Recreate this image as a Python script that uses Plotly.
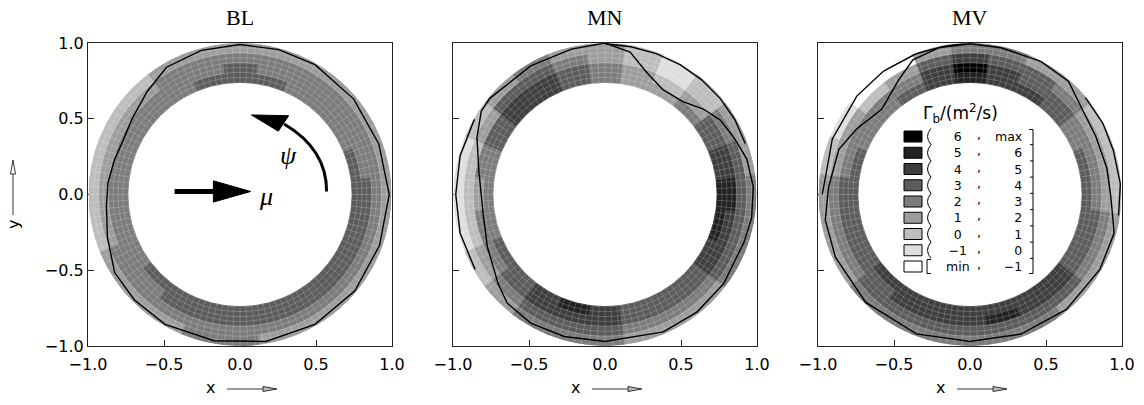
import numpy as np
import plotly.graph_objects as go

W, H = 1144, 405

# ---------------- data ----------------
PANEL_TITLES = ["BL", "MN", "MV"]
THETA = list(range(0, 360, 15))            # azimuth bin centres (deg), 0 = +x, counter-clockwise
THETA_WIDTH = 15
R_EDGES = [0.74, 0.805, 0.87, 0.935, 1.0]  # radial bin edges (inner -> outer)

# Gamma_b values (m^2/s) per radial ring (inner -> outer), 24 azimuth bins each
BL_R1 = [3.5, 3.0, 2.5, 2.5, 2.5, 3.0, 3.0, 3.0, 2.5, 2.5, 2.5, 2.5, 2.5, 2.5, 2.5, 3.0, 3.0, 3.5, 3.5, 3.5, 3.0, 3.0, 3.5, 3.5]
BL_R2 = [3.0, 2.5, 2.5, 2.5, 2.5, 2.5, 3.0, 2.5, 2.5, 2.0, 2.0, 2.0, 2.0, 2.0, 2.5, 2.5, 3.0, 3.5, 3.0, 3.0, 3.0, 3.0, 3.0, 3.0]
BL_R3 = [2.5, 2.5, 2.5, 2.0, 2.5, 2.5, 2.5, 2.5, 2.0, 1.5, 1.5, 1.5, 1.5, 1.5, 2.0, 2.5, 2.5, 2.5, 2.5, 2.5, 2.5, 2.5, 2.5, 2.5]
BL_R4 = [1.5, 1.5, 1.5, 1.5, 1.5, 1.5, 1.5, 1.5, 1.0, 0.5, 0.5, 0.5, 0.5, 0.5, 1.0, 1.5, 1.5, 2.0, 2.0, 1.5, 1.5, 1.5, 1.5, 1.5]

MN_R1 = [5.5, 4.5, 3.5, 2.5, 1.5, 1.5, 2.5, 3.5, 4.5, 4.5, 3.5, 2.5, 2.5, 2.5, 3.0, 3.5, 4.5, 5.0, 4.0, 3.5, 3.0, 3.5, 4.5, 5.5]
MN_R2 = [5.0, 4.0, 3.0, 1.5, 0.5, 1.0, 2.5, 3.5, 4.5, 4.0, 3.0, 2.0, 1.5, 2.0, 2.5, 3.0, 4.0, 4.5, 4.0, 3.0, 3.0, 3.0, 4.0, 4.5]
MN_R3 = [3.5, 3.0, 2.0, 0.5, -0.5, 0.5, 1.5, 2.5, 3.5, 3.0, 1.5, 0.5, 0.5, 0.5, 1.5, 2.5, 3.0, 3.5, 3.0, 2.5, 2.5, 2.5, 3.0, 3.5]
MN_R4 = [2.0, 1.5, 1.0, 0.5, -0.5, 0.5, 1.0, 1.5, 2.0, 1.5, 0.5, -0.5, -0.5, -0.5, 0.5, 1.5, 2.0, 2.0, 2.0, 1.5, 1.5, 1.5, 2.0, 2.0]

MV_R1 = [3.0, 3.0, 2.5, 3.0, 4.0, 4.5, 5.5, 4.0, 3.0, 2.5, 2.5, 3.0, 3.0, 3.5, 3.5, 4.0, 4.0, 4.0, 4.0, 4.5, 4.5, 4.0, 3.5, 3.5]
MV_R2 = [2.5, 2.5, 2.5, 3.0, 3.5, 4.5, 6.0, 4.0, 2.5, 2.0, 2.0, 2.5, 3.0, 3.0, 3.5, 3.5, 4.0, 4.0, 4.0, 5.0, 4.5, 4.0, 3.5, 3.0]
MV_R3 = [1.5, 1.5, 1.5, 2.5, 3.0, 3.5, 4.5, 3.0, 1.0, 0.5, 1.0, 1.5, 2.0, 2.5, 2.5, 3.0, 3.0, 3.0, 3.0, 3.5, 3.5, 3.0, 2.5, 2.0]
MV_R4 = [0.5, 0.5, 0.5, 1.0, 1.5, 2.0, 2.5, 1.5, -1.5, -1.5, -0.5, 0.5, 1.0, 1.5, 1.5, 2.0, 2.0, 2.0, 2.0, 2.0, 2.0, 1.5, 1.5, 1.0]

# contour lines (theta in deg, r)
BL_LINE_T = [90, 105, 120, 132, 145, 155, 165, 175, 185, 198, 212, 225, 240, 260, 280, 300, 320, 340, 0, 20, 40, 60, 75, 90]
BL_LINE_R = [0.99, 0.985, 0.97, 0.915, 0.87, 0.85, 0.86, 0.875, 0.885, 0.92, 0.975, 0.985, 0.99, 0.98, 0.985, 0.99, 0.99, 0.98, 0.985, 0.975, 0.98, 0.99, 0.99, 0.99]

MN_LINE1_T = [90, 80, 70, 60, 50, 40, 30, 20]
MN_LINE1_R = [0.995, 0.99, 0.99, 0.99, 0.99, 0.99, 0.99, 0.985]
MN_LINE2_T = [90, 80, 71, 61, 50, 41, 33, 24, 14, 3, -9, -19, -37, -52, -67, -90, -106, -120, -132, -140, -156, -170, 170, 156, 146, 140, 120, 103, 90]
MN_LINE2_R = [1.0, 0.955, 0.85, 0.79, 0.80, 0.86, 0.905, 0.93, 0.965, 0.98, 0.98, 0.97, 0.98, 0.985, 0.985, 0.97, 0.975, 0.98, 0.965, 0.92, 0.85, 0.815, 0.845, 0.925, 0.985, 0.99, 0.98, 0.985, 1.0]
MN_LINE3_T = [150, 165, 180, 195, 210]
MN_LINE3_R = [0.995, 0.99, 0.985, 0.99, 0.99]

MV_LINE1_T = [102, 113, 122, 136, 150, 161, 177, 190, 205, 226, 249, 270, 290, 310, 330, 345, 359, 11, 25, 37, 49, 62, 78, 90, 102]
MV_LINE1_R = [0.99, 0.965, 0.89, 0.81, 0.865, 0.915, 0.935, 0.97, 0.98, 0.99, 0.985, 0.97, 0.98, 0.99, 0.99, 0.985, 0.93, 0.92, 0.915, 0.93, 0.99, 0.995, 0.99, 0.995, 0.99]
MV_LINE2_T = [180, 158, 139, 125, 111, 99, 92]
MV_LINE2_R = [0.975, 0.98, 0.99, 0.995, 0.995, 0.995, 0.995]
MV_LINE3_T = [40, 28, 17, 4, -8]
MV_LINE3_R = [0.995, 0.995, 0.99, 0.995, 0.99]

TICK_VALS = [-1.0, -0.5, 0.0, 0.5, 1.0]
TICK_TEXT = ["\u22121.0", "\u22120.5", "0.0", "0.5", "1.0"]

LEGEND_TITLE = "\u0393<sub>b</sub>/(m<sup>2</sup>/s)"
LEGEND_LOW = ["6", "5", "4", "3", "2", "1", "0", "\u22121", "min"]
LEGEND_HIGH = ["max", "6", "5", "4", "3", "2", "1", "0", "\u22121"]
LEGEND_COLORS = ["#000000", "#222222", "#3e3e3e", "#5c5c5c", "#7c7c7c", "#9d9d9d", "#bdbdbd", "#dedede", "#ffffff"]

# ---------------- helpers ----------------
COLORS_ASC = LEGEND_COLORS[::-1]


def level_color(v):
    idx = int(np.floor(v)) + 2
    return COLORS_ASC[min(max(idx, 0), 8)]


X_PX = [(88, 392), (453, 757), (818, 1122)]
Y_PX = (43, 346)
YDOM = [1 - Y_PX[1] / H, 1 - Y_PX[0] / H]

panels = [
    ([BL_R1, BL_R2, BL_R3, BL_R4], [(BL_LINE_T, BL_LINE_R)]),
    ([MN_R1, MN_R2, MN_R3, MN_R4], [(MN_LINE1_T, MN_LINE1_R), (MN_LINE2_T, MN_LINE2_R), (MN_LINE3_T, MN_LINE3_R)]),
    ([MV_R1, MV_R2, MV_R3, MV_R4], [(MV_LINE1_T, MV_LINE1_R), (MV_LINE2_T, MV_LINE2_R), (MV_LINE3_T, MV_LINE3_R)]),
]

fig = go.Figure()
layout = {}

# mesh texture (white grid of the computational mesh)
mesh_t, mesh_r = [], []
for a in np.arange(0, 360, 3):
    mesh_t += [a, a, None]
    mesh_r += [R_EDGES[0], R_EDGES[-1], None]
circ = np.arange(0, 362, 2)
for rr in np.linspace(R_EDGES[0], R_EDGES[-1], 9)[1:-1]:
    mesh_t += list(circ) + [None]
    mesh_r += [rr] * len(circ) + [None]

for i, (rings, lines) in enumerate(panels):
    sfx = "" if i == 0 else str(i + 1)
    sub = "polar" + sfx
    xdom = [X_PX[i][0] / W, X_PX[i][1] / W]
    for k, vals in enumerate(rings):
        cols = [level_color(v) for v in vals]
        fig.add_trace(go.Barpolar(
            r=[R_EDGES[k + 1] - R_EDGES[k]] * len(THETA),
            base=[R_EDGES[k]] * len(THETA),
            theta=THETA, width=[THETA_WIDTH] * len(THETA),
            marker=dict(color=cols, line=dict(color=cols, width=0.8)),
            subplot=sub, showlegend=False, hoverinfo="skip"))
    fig.add_trace(go.Scatterpolar(
        r=mesh_r, theta=mesh_t, mode="lines",
        line=dict(color="rgba(255,255,255,0.28)", width=0.7),
        subplot=sub, showlegend=False, hoverinfo="skip"))
    for (lt, lr) in lines:
        fig.add_trace(go.Scatterpolar(
            r=lr, theta=lt, mode="lines",
            line=dict(color="black", width=1.4),
            subplot=sub, showlegend=False, hoverinfo="skip"))
    layout[sub] = dict(
        domain=dict(x=xdom, y=YDOM),
        bgcolor="rgba(0,0,0,0)",
        bargap=0, barmode="overlay", hole=0,
        radialaxis=dict(range=[0, 1], visible=False, showgrid=False),
        angularaxis=dict(visible=False, rotation=0, direction="counterclockwise", showgrid=False),
    )
    # cartesian frame
    fig.add_trace(go.Scatter(x=[None], y=[None], xaxis="x" + sfx, yaxis="y" + sfx,
                             showlegend=False, hoverinfo="skip"))
    common = dict(range=[-1, 1], showline=True, linecolor="#222", linewidth=1.2, mirror=True,
                  ticks="inside", ticklen=6, tickwidth=1.2, tickcolor="#222",
                  tickvals=TICK_VALS, ticktext=TICK_TEXT, showgrid=False, zeroline=False,
                  tickfont=dict(family="DejaVu Sans", size=16, color="black"), fixedrange=True,
                  automargin=False)
    layout["xaxis" + sfx] = dict(common, domain=xdom, anchor="y" + sfx, ticklabelstandoff=4)
    layout["yaxis" + sfx] = dict(common, domain=YDOM, anchor="x" + sfx, showticklabels=(i == 0))

annotations = []
shapes = []


def px(x):
    return x / W


def py(y):
    return 1 - y / H


# titles and axis titles
for i, t in enumerate(PANEL_TITLES):
    cx = (X_PX[i][0] + X_PX[i][1]) / 2
    annotations.append(dict(text=t, x=px(cx), y=py(18), xref="paper", yref="paper", showarrow=False,
                            xanchor="center", yanchor="middle",
                            font=dict(family="Liberation Serif", size=22, color="black")))
    annotations.append(dict(text="x", x=px(cx - 30), y=py(387), xref="paper", yref="paper", showarrow=False,
                            xanchor="center", yanchor="middle",
                            font=dict(family="DejaVu Sans", size=16, color="black")))
    shapes.append(dict(type="line", xref="paper", yref="paper", x0=px(cx - 13), x1=px(cx + 24),
                       y0=py(389), y1=py(389), line=dict(color="#333", width=1)))
    shapes.append(dict(type="path", xref="paper", yref="paper",
                       path=f"M {px(cx + 23)},{py(386.5)} L {px(cx + 37)},{py(389)} L {px(cx + 23)},{py(391.5)} Z",
                       fillcolor="#bbbbbb", line=dict(color="#333", width=1)))

annotations.append(dict(text="y", x=px(13), y=py(225), xref="paper", yref="paper", showarrow=False,
                        textangle=-90, xanchor="center", yanchor="middle",
                        font=dict(family="DejaVu Sans", size=16, color="black")))
shapes.append(dict(type="line", xref="paper", yref="paper", x0=px(13), x1=px(13), y0=py(215), y1=py(173),
                   line=dict(color="#333", width=1)))
shapes.append(dict(type="path", xref="paper", yref="paper",
                   path=f"M {px(10.5)},{py(174)} L {px(13)},{py(160)} L {px(15.5)},{py(174)} Z",
                   fillcolor="#ffffff", line=dict(color="#333", width=1)))

# mu and psi arrows in BL panel
shapes.append(dict(type="line", xref="x", yref="y", x0=-0.43, y0=0.02, x1=-0.16, y1=0.02,
                   line=dict(color="black", width=5), layer="above"))
shapes.append(dict(type="path", xref="x", yref="y", path="M 0.07,0.02 L -0.175,0.09 L -0.175,-0.05 Z",
                   fillcolor="black", line=dict(color="black", width=1), layer="above"))
annotations.append(dict(text="<i>\u03bc</i>", x=0.17, y=-0.01, xref="x", yref="y", showarrow=False,
                        xanchor="center", yanchor="middle",
                        font=dict(family="Liberation Serif", size=26, color="black")))
shapes.append(dict(type="path", xref="x", yref="y", path="M 0.57,0.02 Q 0.57,0.30 0.29,0.465",
                   line=dict(color="black", width=3), layer="above"))
shapes.append(dict(type="path", xref="x", yref="y", path="M 0.075,0.525 L 0.32,0.52 L 0.252,0.418 Z",
                   fillcolor="black", line=dict(color="black", width=1), layer="above"))
annotations.append(dict(text="<i>\u03c8</i>", x=0.32, y=0.26, xref="x", yref="y", showarrow=False,
                        xanchor="center", yanchor="middle",
                        font=dict(family="Liberation Serif", size=26, color="black")))


# legend inside MV panel (x3/y3 data coords converted from pixel layout)
def lx(p):
    return (p - 970) / 152


def ly(p):
    return (194.5 - p) / 151.5


LEG_FS = 12.5
dr = 1.3 * LEG_FS          # line spacing of multi-line annotations
row0 = 136.5
nrow = len(LEGEND_LOW)
ymid = row0 + (nrow - 1) * dr / 2

annotations.append(dict(text=LEGEND_TITLE, x=lx(960), y=ly(113), xref="x3", yref="y3", showarrow=False,
                        xanchor="center", yanchor="middle",
                        font=dict(family="DejaVu Sans", size=17, color="black")))
for k in range(nrow):
    yc = row0 + k * dr
    shapes.append(dict(type="rect", xref="x3", yref="y3", x0=lx(904), x1=lx(922), y0=ly(yc - 5.5), y1=ly(yc + 5.5),
                       fillcolor=LEGEND_COLORS[k], line=dict(color="black", width=1)))
common_leg = dict(xref="x3", yref="y3", showarrow=False, yanchor="middle", borderpad=0,
                  font=dict(family="DejaVu Sans", size=LEG_FS, color="black"))
annotations.append(dict(common_leg, text="<br>".join(LEGEND_LOW), x=lx(958), y=ly(ymid),
                        xanchor="center", align="center"))
annotations.append(dict(common_leg, text="<br>".join([","] * nrow), x=lx(979), y=ly(ymid - 2),
                        xanchor="center", align="center"))
annotations.append(dict(common_leg, text="<br>".join(LEGEND_HIGH), x=lx(1023), y=ly(ymid),
                        xanchor="right", align="right"))

# wavy left bracket for open intervals
x0 = 931
path = f"M {lx(x0)},{ly(row0 - dr / 2)}"
for k in range(nrow - 1):
    ya, yb = row0 - dr / 2 + k * dr, row0 + dr / 2 + k * dr
    path += f" Q {lx(x0 - 7)},{ly((ya + yb) / 2)} {lx(x0)},{ly(yb)}"
shapes.append(dict(type="path", xref="x3", yref="y3", path=path, line=dict(color="black", width=1)))
yl = row0 + (nrow - 1) * dr
yb0, yb1 = yl - 7, yl + 7
shapes.append(dict(type="path", xref="x3", yref="y3",
                   path=f"M {lx(931)},{ly(yb0)} L {lx(927)},{ly(yb0)} L {lx(927)},{ly(yb1)} L {lx(931)},{ly(yb1)}",
                   line=dict(color="black", width=1)))
# right bracket with ticks
top, bot = row0 - 7, yl + 7
rpath = f"M {lx(1029)},{ly(top)} L {lx(1033)},{ly(top)} L {lx(1033)},{ly(bot)} L {lx(1029)},{ly(bot)}"
for k in range(nrow - 1):
    yy = row0 + dr / 2 + k * dr
    rpath += f" M {lx(1033)},{ly(yy)} L {lx(1030)},{ly(yy)}"
shapes.append(dict(type="path", xref="x3", yref="y3", path=rpath, line=dict(color="black", width=1)))

fig.update_layout(
    width=W, height=H, margin=dict(l=0, r=0, t=0, b=0, autoexpand=False),
    paper_bgcolor="white", plot_bgcolor="rgba(0,0,0,0)",
    showlegend=False, annotations=annotations, shapes=shapes,
    **layout,
)

fig.write_html("out.html")
